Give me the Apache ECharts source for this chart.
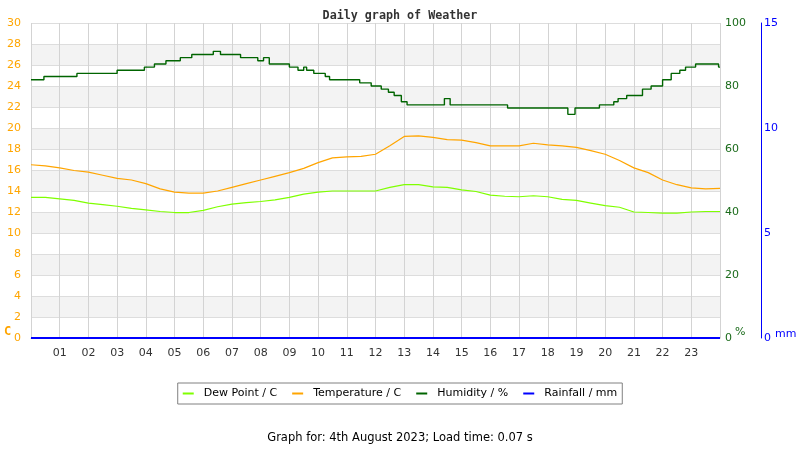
<!DOCTYPE html>
<html>
<head>
<meta charset="utf-8">
<script src="https://cdn.jsdelivr.net/npm/echarts@6/dist/echarts.min.js"></script>
<style>
  html, body { margin: 0; padding: 0; background: #fff; }
  #chart { width: 800px; height: 450px; }
</style>
</head>
<body>
<div id="chart"></div>
<script>
// hours of day, read every half hour
var hours = [0, 0.5, 1, 1.5, 2, 2.5, 3, 3.5, 4, 4.5, 5, 5.5, 6, 6.5, 7, 7.5, 8, 8.5, 9, 9.5,
  10, 10.5, 11, 11.5, 12, 12.5, 13, 13.5, 14, 14.5, 15, 15.5, 16, 16.5, 17, 17.5, 18, 18.5, 19, 19.5,
  20, 20.5, 21, 21.5, 22, 22.5, 23, 23.5, 24];
var temperature = [16.5, 16.4, 16.2, 15.95, 15.8, 15.5, 15.2, 15.05, 14.7, 14.2, 13.9, 13.8, 13.8, 14.0, 14.35, 14.7, 15.05, 15.4, 15.75, 16.15,
  16.7, 17.15, 17.25, 17.3, 17.5, 18.3, 19.2, 19.25, 19.1, 18.9, 18.85, 18.6, 18.3, 18.3, 18.3, 18.55, 18.4, 18.3, 18.15, 17.85,
  17.5, 16.9, 16.2, 15.75, 15.05, 14.6, 14.3, 14.2, 14.25];
var dewPoint = [13.4, 13.4, 13.25, 13.1, 12.85, 12.7, 12.55, 12.35, 12.2, 12.05, 11.95, 11.95, 12.15, 12.5, 12.75, 12.9, 13.0, 13.15, 13.4, 13.7,
  13.9, 14.0, 14.0, 14.0, 14.0, 14.35, 14.6, 14.6, 14.4, 14.35, 14.1, 13.95, 13.6, 13.5, 13.45, 13.55, 13.45, 13.2, 13.1, 12.85,
  12.6, 12.45, 12.0, 11.95, 11.9, 11.9, 12.0, 12.05, 12.05];

// humidity changes (hour when it changed, new value)
var humTimes = [0, 0.45, 1.6, 3.0, 3.95, 4.3, 4.7, 5.2, 5.6, 6.35, 6.6, 7.3, 7.9, 8.1, 8.3, 9.0, 9.3, 9.5, 9.6, 9.85,
  10.25, 10.4, 11.45, 11.85, 12.2, 12.45, 12.65, 12.9, 13.1, 14.4, 14.6, 16.6, 18.7, 18.95, 19.8, 20.3, 20.45, 20.75, 21.3, 21.6,
  22.0, 22.3, 22.6, 22.8, 23.15, 23.95, 24];
var humidity = [82, 83, 84, 85, 86, 87, 88, 89, 90, 91, 90, 89, 88, 89, 87, 86, 85, 86, 85, 84,
  83, 82, 81, 80, 79, 78, 77, 75, 74, 76, 74, 73, 71, 73, 74, 75, 76, 77, 79, 80,
  82, 84, 85, 86, 87, 86, 86];

var rainTimes = [0, 24];
var rainfall = [0, 0];

var tempTicks = [0, 30, 2];
var humTicks = [0, 100, 20];
var rainTicks = [0, 15, 5];

function pairs(xs, ys) {
  var out = [];
  for (var i = 0; i < xs.length; i++) out.push([xs[i], ys[i]]);
  return out;
}

var myChart = echarts.init(document.getElementById('chart'));

var option = {
  animation: false,
  backgroundColor: '#fff',
  textStyle: { fontFamily: 'DejaVu Sans' },
  title: {
    text: 'Daily graph of Weather',
    left: 'center',
    top: 5,
    textStyle: { fontFamily: 'DejaVu Sans Mono', fontWeight: 'bold', fontSize: 11.7, color: '#333' }
  },
  legend: {
    data: ['Dew Point / C', 'Temperature / C', 'Humidity / %', 'Rainfall / mm'],
    left: 'center',
    top: 383,
    icon: 'rect',
    itemWidth: 11,
    itemHeight: 2,
    itemGap: 15,
    padding: [5, 5, 5, 5],
    borderColor: '#808080',
    borderWidth: 1,
    textStyle: { fontSize: 11, color: '#000', fontFamily: 'DejaVu Sans', padding: [0, 0, 0, 5] }
  },
  grid: { left: 31, right: 80, top: 23, bottom: 112 },
  xAxis: {
    type: 'value',
    min: 0,
    max: 24,
    interval: 1,
    axisLine: { lineStyle: { color: '#cccccc' } },
    axisTick: { show: false },
    axisLabel: {
      margin: 10,
      fontSize: 11,
      color: '#333',
      formatter: function (v) { return (v === 0 || v === 24) ? '' : (v < 10 ? '0' + v : '' + v); }
    },
    splitLine: { show: true, lineStyle: { color: '#d3d3d3' } }
  },
  yAxis: [
    {
      type: 'value', min: tempTicks[0], max: tempTicks[1], interval: tempTicks[2],
      position: 'left',
      axisLine: { show: false }, axisTick: { show: false },
      axisLabel: { color: '#ffa500', fontSize: 11, margin: 10 },
      splitLine: { show: true, lineStyle: { color: '#dddddd' } },
      splitArea: { show: true, areaStyle: { color: ['#ffffff', '#f3f3f3'] } }
    },
    {
      type: 'value', min: humTicks[0], max: humTicks[1], interval: humTicks[2],
      position: 'right',
      axisLine: { show: false }, axisTick: { show: false },
      axisLabel: { color: '#1a6b1a', fontSize: 11, margin: 5 },
      splitLine: { show: false }
    },
    {
      type: 'value', min: rainTicks[0], max: rainTicks[1], interval: rainTicks[2],
      position: 'right', offset: 41,
      axisLine: { show: true, lineStyle: { color: '#0000ff', width: 1 } },
      axisTick: { show: false },
      axisLabel: { color: '#0000ff', fontSize: 11, margin: 3 },
      splitLine: { show: false }
    }
  ],
  series: [
    {
      name: 'Dew Point / C', type: 'line', yAxisIndex: 0,
      data: pairs(hours, dewPoint), showSymbol: false,
      lineStyle: { color: '#7fff00', width: 1.2 }, itemStyle: { color: '#7fff00' }
    },
    {
      name: 'Temperature / C', type: 'line', yAxisIndex: 0,
      data: pairs(hours, temperature), showSymbol: false,
      lineStyle: { color: '#ffa500', width: 1.2 }, itemStyle: { color: '#ffa500' }
    },
    {
      name: 'Humidity / %', type: 'line', yAxisIndex: 1, step: 'end',
      data: pairs(humTimes, humidity), showSymbol: false,
      lineStyle: { color: '#006400', width: 1.4 }, itemStyle: { color: '#006400' }
    },
    {
      name: 'Rainfall / mm', type: 'line', yAxisIndex: 2,
      data: pairs(rainTimes, rainfall), showSymbol: false,
      lineStyle: { color: '#0000ff', width: 2 }, itemStyle: { color: '#0000ff' }
    }
  ],
  graphic: [
    { type: 'text', left: 4, top: 326,
      style: { text: 'C', fill: '#ffa500', font: 'bold 12px "DejaVu Sans Mono"' } },
    { type: 'text', left: 735, top: 327,
      style: { text: '%', fill: '#1a6b1a', font: '11px "DejaVu Sans"' } },
    { type: 'text', left: 775, top: 329,
      style: { text: 'mm', fill: '#0000ff', font: '11px "DejaVu Sans"' } },
    { type: 'text', left: 'center', top: 432,
      style: { text: 'Graph for: 4th August 2023; Load time: 0.07 s', fill: '#000', font: '11.5px "DejaVu Sans"' } }
  ]
};

myChart.setOption(option);
</script>
</body>
</html>
